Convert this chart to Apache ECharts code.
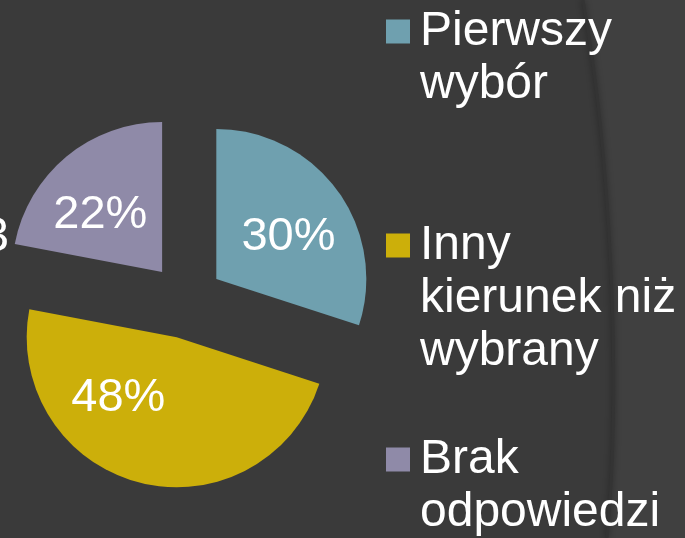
<!DOCTYPE html>
<html><head><meta charset="utf-8">
<script src="https://cdn.jsdelivr.net/npm/echarts@6/dist/echarts.min.js"></script>
<style>html,body{margin:0;padding:0;background:#3a3a3a}#c{width:685px;height:538px}</style>
</head><body><div id="c"></div>
<script>
// Data
const categories = ['Pierwszy wybór', 'Inny kierunek niż wybrany', 'Brak odpowiedzi'];
const legendLabels = ['Pierwszy\nwybór', 'Inny\nkierunek niż\nwybrany', 'Brak\nodpowiedzi'];
const values = [30, 48, 22];

// Styles
const colors = ['#6fa0af', '#ccaf0a', '#8f8aa8'];
const labelShift = [[9, 4], [-39, -15], [-12, 3]];
const FONT = 'Liberation Sans, Arial, sans-serif';
const LH = 53;

// decorative background curve (cubic bezier)
const B = [[583, 0], [610, 150], [622, 380], [607, 538]];
function bez(t) {
  const u = 1 - t;
  return [0, 1].map(k => u*u*u*B[0][k] + 3*u*u*t*B[1][k] + 3*u*t*t*B[2][k] + t*t*t*B[3][k]);
}
const bandPts = [];
for (let i = 0; i <= 40; i++) bandPts.push(bez(i / 40));
bandPts.push([685, 538], [685, 0]);

const chart = echarts.init(document.getElementById('c'), null, {renderer: 'canvas'});
// legend text: prepend blank lines so the icon sits on the first line
const labelMap = {};
categories.forEach((c, i) => {
  const n = legendLabels[i].split('\n').length;
  labelMap[c] = '\n'.repeat(n - 1) + legendLabels[i];
});

chart.setOption({
  backgroundColor: '#3a3a3a',
  animation: false,
  color: colors,
  graphic: [
    {type: 'polygon', silent: true, z: -10,
     shape: {points: bandPts},
     style: {fill: '#404040'}},
    {type: 'bezierCurve', silent: true, z: -9,
     shape: {x1: B[0][0], y1: B[0][1], cpx1: B[1][0], cpy1: B[1][1], cpx2: B[2][0], cpy2: B[2][1], x2: B[3][0], y2: B[3][1]},
     style: {fill: null, stroke: '#343434', lineWidth: 3, shadowBlur: 6, shadowColor: 'rgba(0,0,0,0.4)'}},
    {type: 'text', silent: true, x: 9, y: 237.5,
     style: {text: '3', fill: '#ffffff', fontSize: 48, fontFamily: FONT,
             align: 'right', verticalAlign: 'middle'}}
  ],
  legend: {
    orient: 'vertical',
    left: 386, top: -48, height: 800,
    padding: 0,
    itemWidth: 24, itemHeight: 24, itemGap: 2,
    selectedMode: false,
    icon: 'rect',
    formatter: name => labelMap[name],
    textStyle: {color: '#ffffff', fontSize: 48, fontFamily: FONT, lineHeight: LH, padding: [0, 0, 0, 5]},
    data: categories
  },
  series: [{
    type: 'pie',
    center: [186, 301],
    radius: 150,
    startAngle: 90,
    clockwise: true,
    avoidLabelOverlap: false,
    selectedMode: 'multiple',
    selectedOffset: 37.5,
    emphasis: {disabled: true, scale: false},
    itemStyle: {borderWidth: 0},
    select: {itemStyle: {borderWidth: 0}, label: {color: '#ffffff'}},
    label: {
      show: true, position: 'inside', formatter: '{d}%',
      color: '#ffffff', fontSize: 47, fontFamily: FONT
    },
    labelLine: {show: false},
    labelLayout: p => ({dx: labelShift[p.dataIndex][0], dy: labelShift[p.dataIndex][1]}),
    data: categories.map((c, i) => ({name: c, value: values[i], selected: true}))
  }]
});
</script>
</body></html>
